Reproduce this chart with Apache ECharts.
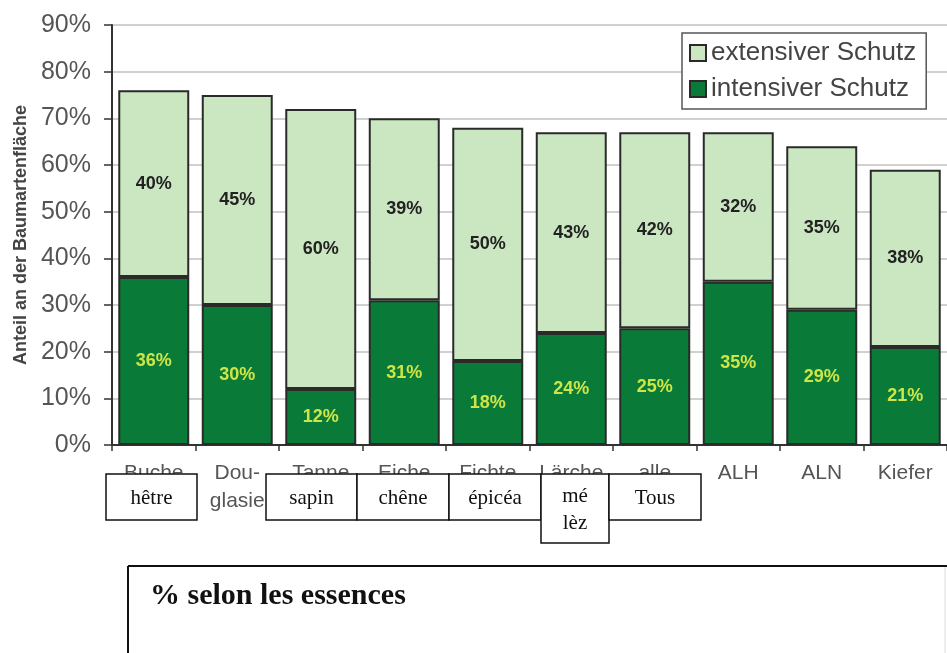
<!DOCTYPE html>
<html>
<head>
<meta charset="utf-8">
<script src="https://cdn.jsdelivr.net/npm/echarts@6/dist/echarts.min.js"></script>
<style>
html,body{margin:0;padding:0;background:#fff;}
#chart{width:947px;height:653px;}
</style>
</head>
<body>
<div id="chart"></div>
<script>
const categories = ['Buche', 'Dou-\nglasie', 'Tanne', 'Eiche', 'Fichte', 'Lärche', 'alle', 'ALH', 'ALN', 'Kiefer'];
const intensiverSchutz = [36, 30, 12, 31, 18, 24, 25, 35, 29, 21];
const extensiverSchutz = [40, 45, 60, 39, 50, 43, 42, 32, 35, 38];
const seriesNames = ['extensiver Schutz', 'intensiver Schutz'];
const yAxisName = 'Anteil an der Baumartenfläche';
const frenchLabels = ['hêtre', 'sapin', 'chêne', 'épicéa', 'mé\nlèz', 'Tous'];
const captionText = '% selon les essences';

const chart = echarts.init(document.getElementById('chart'));

const boxStyle = { fill: '#fff', stroke: '#111', lineWidth: 1.5 };
const serifFont = '"Liberation Serif", "DejaVu Serif", serif';
const sansFont = '"Liberation Sans", Arial, sans-serif';
// overlay boxes: [x, y, w, h]
const boxGeom = [
  [106, 474, 91, 46],
  [266, 474, 91, 46],
  [357, 474, 92, 46],
  [449, 474, 92, 46],
  [541, 474, 68, 69],
  [609, 474, 92, 46]
];
const graphics = [];
frenchLabels.forEach((t, i) => {
  const g = boxGeom[i];
  graphics.push({
    type: 'rect', z: 100,
    shape: { x: g[0], y: g[1], width: g[2], height: g[3] },
    style: boxStyle
  });
  graphics.push({
    type: 'text', z: 101,
    x: g[0] + g[2] / 2, y: g[1] + g[3] / 2 + 1,
    style: {
      text: t, fill: '#111', font: '21px ' + serifFont,
      textAlign: 'center', textVerticalAlign: 'middle', lineHeight: 27
    }
  });
});
// caption box
graphics.push({ type: 'line', z: 100, shape: { x1: 128, y1: 566, x2: 947, y2: 566 }, style: { stroke: '#111', lineWidth: 2 } });
graphics.push({ type: 'line', z: 100, shape: { x1: 128, y1: 566, x2: 128, y2: 660 }, style: { stroke: '#111', lineWidth: 2 } });
graphics.push({ type: 'line', z: 100, shape: { x1: 945, y1: 567, x2: 945, y2: 660 }, style: { stroke: '#ddd', lineWidth: 1 } });
graphics.push({
  type: 'text', z: 101, x: 150, y: 596,
  style: { text: captionText, fill: '#111', font: 'bold 30px ' + serifFont, textAlign: 'left', textVerticalAlign: 'middle' }
});

const option = {
  backgroundColor: '#fff',
  animation: false,
  grid: { left: 112, top: 25, bottom: 208, right: -2, containLabel: false },
  legend: {
    data: seriesNames,
    orient: 'vertical',
    left: 682, top: 33,
    padding: [7, 10, 7, 7],
    itemGap: 10,
    itemWidth: 16, itemHeight: 16,
    icon: 'rect',
    borderColor: '#555', borderWidth: 1.5,
    backgroundColor: '#fff',
    textStyle: { fontFamily: sansFont, fontSize: 26, color: '#444' }
  },
  xAxis: {
    type: 'category',
    data: categories,
    axisLine: { lineStyle: { color: '#333', width: 2 } },
    axisTick: { show: true, length: 6, lineStyle: { color: '#333', width: 1.5 } },
    axisLabel: { fontFamily: sansFont, fontSize: 21, color: '#555', margin: 14, lineHeight: 28, interval: 0 },
    splitLine: { show: false }
  },
  yAxis: {
    type: 'value',
    min: 0, max: 90, interval: 10,
    name: yAxisName,
    nameLocation: 'middle',
    nameGap: 82,
    nameRotate: 90,
    nameTextStyle: { fontFamily: sansFont, fontSize: 18, fontWeight: 'bold', color: '#444' },
    axisLine: { show: true, lineStyle: { color: '#333', width: 2 } },
    axisTick: { show: true, length: 8, lineStyle: { color: '#333', width: 1.5 } },
    axisLabel: { formatter: '{value}%', fontFamily: sansFont, fontSize: 25, color: '#555', margin: 21 },
    splitLine: { show: true, lineStyle: { color: '#d0d0d0', width: 2 } }
  },
  series: [
    {
      name: seriesNames[1],
      type: 'bar', stack: 'total',
      barCategoryGap: '15%',
      data: intensiverSchutz,
      itemStyle: { color: '#097a37', borderColor: '#2a2a2a', borderWidth: 2 },
      label: { show: true, position: 'inside', formatter: '{c}%', color: '#cde548', fontWeight: 'bold', fontSize: 18, fontFamily: sansFont }
    },
    {
      name: seriesNames[0],
      type: 'bar', stack: 'total',
      barCategoryGap: '15%',
      data: extensiverSchutz,
      itemStyle: { color: '#cbe7c2', borderColor: '#2a2a2a', borderWidth: 2 },
      label: { show: true, position: 'inside', formatter: '{c}%', color: '#222', fontWeight: 'bold', fontSize: 18, fontFamily: sansFont }
    }
  ],
  graphic: graphics
};
chart.setOption(option);
</script>
</body>
</html>
